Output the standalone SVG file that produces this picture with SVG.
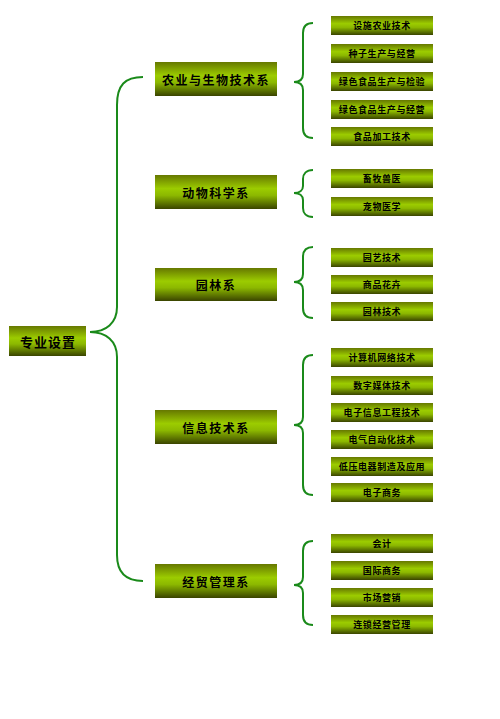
<svg xmlns="http://www.w3.org/2000/svg" width="500" height="719" viewBox="0 0 500 719">
<defs>
<linearGradient id="g" x1="0" y1="0" x2="0" y2="1">
<stop offset="0" stop-color="#667800"/>
<stop offset="0.4" stop-color="#9ccc00"/>
<stop offset="0.6" stop-color="#8cb800"/>
<stop offset="1" stop-color="#3a4400"/>
</linearGradient>
<style>
.box{fill:url(#g);}
.br{fill:none;stroke:#1a8a1a;stroke-width:2;}
text{font-family:"Noto Sans CJK SC","Noto Sans CJK JP",sans-serif;font-weight:bold;fill:#000;text-anchor:middle;dominant-baseline:central;}
.t0{font-size:13px;letter-spacing:1px;}
.t1{font-size:12px;letter-spacing:1.5px;}
.t2{font-size:9px;letter-spacing:0.6px;}
</style>
</defs>
<rect width="500" height="719" fill="#fff"/>
<g id="connectors">
<path class="br" d="M143,77 C125,77 117,85 117,105 L117,307 C117,323 106,332 90,332 C106,332 117,341 117,357 L117,555 C117,572 125,581 143,581"/>
<path class="br" d="M313,23 C306,23 303,27 303,33 L303,74 C303,79 300,82 294,82 C300,82 303,85 303,90 L303,128 C303,134 306,138 313,138"/>
<path class="br" d="M313,170 C306,170 303,174 303,179 L303,186 C303,190 300,193 294,193 C300,193 303,196 303,200 L303,208 C303,213 306,217 313,217"/>
<path class="br" d="M313,247 C306,247 303,251 303,257 L303,274 C303,279 300,282 294,282 C300,282 303,285 303,290 L303,308 C303,314 306,318 313,318"/>
<path class="br" d="M313,355 C306,355 303,359 303,365 L303,417 C303,422 300,425 294,425 C300,425 303,428 303,433 L303,485 C303,491 306,495 313,495"/>
<path class="br" d="M313,541 C306,541 303,545 303,551 L303,577 C303,582 300,585 294,585 C300,585 303,588 303,593 L303,615 C303,621 306,625 313,625"/>
</g>
<g id="root"><rect class="box" x="9" y="326" width="77" height="30"/><text class="t0" x="48" y="341">专业设置</text></g>
<g id="m1"><rect class="box" x="155" y="62" width="122" height="34"/><text class="t1" x="216" y="79">农业与生物技术系</text></g>
<g id="m2"><rect class="box" x="155" y="175" width="122" height="34"/><text class="t1" x="216" y="192">动物科学系</text></g>
<g id="m3"><rect class="box" x="155" y="268" width="122" height="33"/><text class="t1" x="216" y="284.5">园林系</text></g>
<g id="m4"><rect class="box" x="155" y="410" width="122" height="34"/><text class="t1" x="216" y="427">信息技术系</text></g>
<g id="m5"><rect class="box" x="155" y="564" width="122" height="34"/><text class="t1" x="216" y="581">经贸管理系</text></g>
<g id="l1a"><rect class="box" x="331" y="16" width="102" height="19"/><text class="t2" x="382" y="25.5">设施农业技术</text></g>
<g id="l1b"><rect class="box" x="331" y="44" width="102" height="19"/><text class="t2" x="382" y="53.5">种子生产与经营</text></g>
<g id="l1c"><rect class="box" x="331" y="72" width="102" height="19"/><text class="t2" x="382" y="81.5">绿色食品生产与检验</text></g>
<g id="l1d"><rect class="box" x="331" y="100" width="102" height="19"/><text class="t2" x="382" y="109.5">绿色食品生产与经营</text></g>
<g id="l1e"><rect class="box" x="331" y="127" width="102" height="19"/><text class="t2" x="382" y="136.5">食品加工技术</text></g>
<g id="l2a"><rect class="box" x="331" y="169" width="102" height="19"/><text class="t2" x="382" y="178.5">畜牧兽医</text></g>
<g id="l2b"><rect class="box" x="331" y="197" width="102" height="19"/><text class="t2" x="382" y="206.5">宠物医学</text></g>
<g id="l3a"><rect class="box" x="331" y="248" width="102" height="19"/><text class="t2" x="382" y="257.5">园艺技术</text></g>
<g id="l3b"><rect class="box" x="331" y="275" width="102" height="19"/><text class="t2" x="382" y="284.5">商品花卉</text></g>
<g id="l3c"><rect class="box" x="331" y="302" width="102" height="19"/><text class="t2" x="382" y="311.5">园林技术</text></g>
<g id="l4a"><rect class="box" x="331" y="348" width="102" height="19"/><text class="t2" x="382" y="357.5">计算机网络技术</text></g>
<g id="l4b"><rect class="box" x="331" y="376" width="102" height="19"/><text class="t2" x="382" y="385.5">数字媒体技术</text></g>
<g id="l4c"><rect class="box" x="331" y="403" width="102" height="19"/><text class="t2" x="382" y="412.5">电子信息工程技术</text></g>
<g id="l4d"><rect class="box" x="331" y="430" width="102" height="19"/><text class="t2" x="382" y="439.5">电气自动化技术</text></g>
<g id="l4e"><rect class="box" x="331" y="457" width="102" height="19"/><text class="t2" x="382" y="466.5">低压电器制造及应用</text></g>
<g id="l4f"><rect class="box" x="331" y="483" width="102" height="19"/><text class="t2" x="382" y="492.5">电子商务</text></g>
<g id="l5a"><rect class="box" x="331" y="534" width="102" height="19"/><text class="t2" x="382" y="543.5">会计</text></g>
<g id="l5b"><rect class="box" x="331" y="561" width="102" height="19"/><text class="t2" x="382" y="570.5">国际商务</text></g>
<g id="l5c"><rect class="box" x="331" y="588" width="102" height="19"/><text class="t2" x="382" y="597.5">市场营销</text></g>
<g id="l5d"><rect class="box" x="331" y="615" width="102" height="19"/><text class="t2" x="382" y="624.5">连锁经营管理</text></g>
</svg>
